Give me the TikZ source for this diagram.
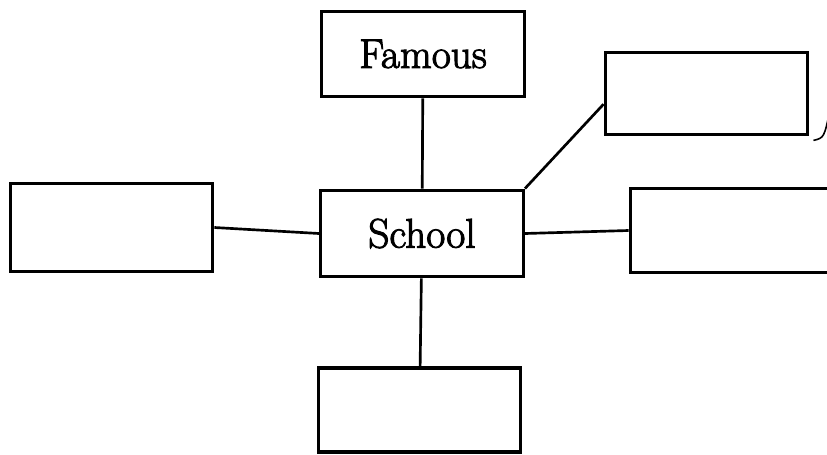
\documentclass[tikz,border=0pt]{standalone}
\usepackage{fontspec}
\setmainfont{Latin Modern Roman}[AutoFakeBold=2.5]
\begin{document}
\begin{tikzpicture}[x=0.75pt,y=-0.75pt,
  box/.style={draw=black,line width=2.4pt,rectangle,minimum width=152pt,minimum height=64pt,inner sep=0pt,
    font=\fontsize{31}{35}\selectfont\bfseries},
  link/.style={draw=black,line width=2pt}]
\clip (0,0) rectangle (827,454);
\fill[white] (0,0) rectangle (827,454);
\node[box] (famous) at (423,54) {Famous};
\node[box,minimum height=62pt] (tr) at (706.5,93.5) {};
\node[box,minimum height=65pt] (school) at (422,233.5) {School};
\node[box,minimum height=66pt] (left) at (111.5,227.5) {};
\node[box,minimum height=63pt] (right) at (731.5,230.5) {};
\node[box,minimum height=63pt] (bottom) at (419.5,410) {};
\coordinate (stub) at (830,110);
\draw[link] (famous) -- (school);
\draw[link] (school.north east) -- ([yshift=-8pt]tr.west);
\draw[link] (school.west) -- (left.east);
\draw[link] (school.east) -- (right.west);
\draw[link] (school) -- (bottom);
\draw[line width=1.2pt] ([shift={(3pt,-3pt)}]tr.south east) .. controls +(8pt,2pt) .. (stub);
\end{tikzpicture}
\end{document}
